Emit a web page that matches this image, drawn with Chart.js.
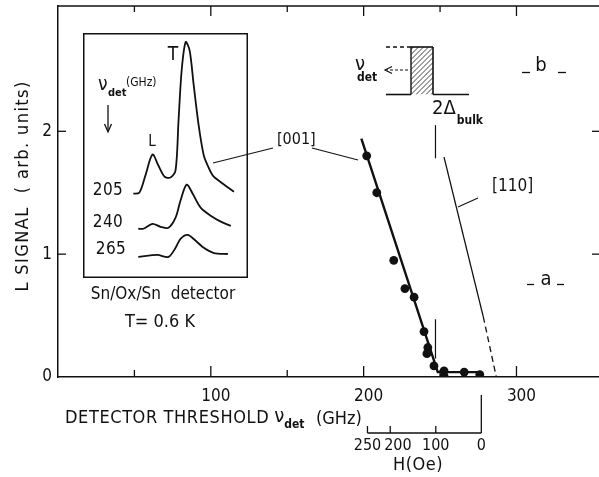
<!DOCTYPE html>
<html>
<head>
<meta charset="utf-8">
<script src="https://cdn.jsdelivr.net/npm/chart.js@4.4.1/dist/chart.umd.min.js"></script>
<style>
html, body { margin: 0; padding: 0; background: #fff; }
#wrap { position: relative; width: 599px; height: 477px; }
#main { position: absolute; left: 0; top: 0; }
#inset { position: absolute; left: 83px; top: 33px; }
</style>
</head>
<body>
<div id="wrap">
  <canvas id="main" width="599" height="477"></canvas>
  <canvas id="inset" width="165" height="245"></canvas>
</div>
<script>
// measured L signal vs detector threshold, [001]
const thresholdGHz = [202, 208.6, 219.7, 227, 233, 239.5, 242, 241.4, 246, 252.6, 252.6, 265.8, 276];
const lSignal      = [1.80, 1.50, 0.95, 0.72, 0.65, 0.37, 0.24, 0.19, 0.09, 0.05, 0.01, 0.04, 0.02];

// guide lines
const fit001X  = [198.5, 248.5, 276];
const fit001Y  = [1.94, 0.04, 0.04];
const line110X = [252.6, 278.3];
const line110Y = [1.79, 0.49];
const dash110X = [278.3, 286.8];
const dash110Y = [0.49, 0];
const gapMarkX = 247;
const gapMarkUpper = [1.78, 2.05];
const gapMarkLower = [0.15, 0.47];

const xTickLabels = [100, 200, 300];
const yTickLabels = [0, 1, 2];

// magnetic field scale under the axis (H in Oe -> threshold in GHz)
const fieldTicks = [250, 200, 100, 0];
const fieldZeroGHz = 277;
const ghzPerOe = 0.298;

// inset traces (arbitrary time units, arbitrary signal)
const time205  = [30.5, 34.1, 37.8, 42.1, 45.7, 49.4, 53.0, 56.1, 57.9, 59.8, 62.2, 64.6, 67.1, 70.1, 73.2, 75.6, 78.7, 84.8, 91.5];
const trace205 = [34.4, 34.8, 41.8, 50.4, 45.9, 41.4, 41.0, 43.9, 64.3, 84.8, 96.3, 93.0, 78.7, 62.3, 50.0, 45.9, 41.8, 38.5, 35.2];
const time240  = [33.5, 36.6, 42.1, 47.0, 51.8, 56.1, 59.1, 62.8, 66.5, 71.3, 77.4, 83.5, 89.6];
const trace240 = [20.1, 20.1, 22.1, 20.9, 20.5, 24.6, 31.6, 38.1, 34.4, 28.7, 25.4, 23.0, 21.3];
const time265  = [33.5, 45.1, 51.8, 56.1, 59.1, 63.4, 68.3, 73.2, 79.3, 87.8];
const trace265 = [8.6, 9.4, 8.6, 12.3, 16.0, 17.6, 15.2, 12.3, 10.2, 9.8];

const black = '#111';
const fam = '"DejaVu Sans Condensed", "Liberation Sans Narrow", sans-serif';
const pts = (xs, ys) => xs.map((x, i) => ({ x: x, y: ys[i] }));

function txt(ctx, s, x, y, size, o) {
    o = o || {};
    ctx.font = (o.weight || 'normal') + ' ' + size + 'px ' + fam;
    ctx.textAlign = o.align || 'left';
    ctx.textBaseline = 'middle';
    ctx.letterSpacing = (o.ls || 0) + 'px';
    ctx.fillText(s, x, y);
    const w = ctx.measureText(s).width;
    ctx.letterSpacing = '0px';
    return w;
}
function seg(ctx, x1, y1, x2, y2, w) {
    ctx.lineWidth = w || 1.2;
    ctx.beginPath();
    ctx.moveTo(x1, y1);
    ctx.lineTo(x2, y2);
    ctx.stroke();
}

const decor = {
    id: 'decor',
    afterDraw(chart) {
        const ctx = chart.ctx;
        const a = chart.chartArea;
        const xs = chart.scales.x, ys = chart.scales.y;
        ctx.save();
        ctx.strokeStyle = black;
        ctx.fillStyle = black;
        ctx.lineCap = 'butt';

        // top frame line
        seg(ctx, a.left, a.top, a.right, a.top, 1.5);
        // inward ticks on x (top and bottom)
        xs.ticks.forEach(t => {
            if (t.value <= 0 || t.value > 300) return;
            const px = xs.getPixelForValue(t.value);
            const major = t.value % 100 === 0;
            seg(ctx, px, a.bottom, px, a.bottom - (major ? 11 : 7), 1.3);
            seg(ctx, px, a.top, px, a.top + (major ? 10 : 6), 1.3);
        });
        // inward ticks on y (left and right)
        [1, 2].forEach(v => {
            const py = ys.getPixelForValue(v);
            seg(ctx, a.left, py, a.left + 8, py, 1.3);
            seg(ctx, a.right, py, a.right - 7, py, 1.3);
        });

        // axis titles
        let x = 65;
        x += txt(ctx, 'DETECTOR THRESHOLD', x, 418, 18, { ls: 0.6 });
        x += 5;
        x += txt(ctx, 'ν', x, 417, 20);
        x += txt(ctx, 'det', x, 425, 12, { weight: 'bold' });
        txt(ctx, '(GHz)', 316, 419, 18);

        ctx.save();
        ctx.translate(23, 186);
        ctx.rotate(-Math.PI / 2);
        txt(ctx, 'L SIGNAL  ( arb. units)', 0, 0, 18, { align: 'center', ls: 1.4 });
        ctx.restore();

        // labels under the inset
        txt(ctx, 'Sn/Ox/Sn  detector', 163, 295, 17, { align: 'center' });
        txt(ctx, 'T= 0.6 K', 160, 322, 18, { align: 'center' });

        // [001] and [110] labels with leader lines
        txt(ctx, '[001]', 277, 140, 16);
        seg(ctx, 213, 163, 273, 148, 1.1);
        seg(ctx, 312, 148, 358, 160, 1.1);
        txt(ctx, '[110]', 492, 187, 17);
        seg(ctx, 458, 207, 478, 198, 1.1);

        // gap step pictogram
        const L = 411, R = 433, T = 47, B = 94.5;
        ctx.save();
        ctx.beginPath();
        ctx.rect(L, T, R - L, B - T);
        ctx.clip();
        ctx.lineWidth = 0.8;
        for (let k = -60; k < 40; k += 5) {
            ctx.beginPath();
            ctx.moveTo(L + k, B);
            ctx.lineTo(L + k + (B - T), T);
            ctx.stroke();
        }
        ctx.restore();
        ctx.setLineDash([4, 3]);
        seg(ctx, 386, T, L, T, 1.4);
        ctx.setLineDash([]);
        seg(ctx, L, T, R, T, 1.6);
        seg(ctx, L, T, L, B, 1.4);
        seg(ctx, R, T, R, B, 1.6);
        seg(ctx, 386, B, L, B, 1.6);
        seg(ctx, R, B, 469, B, 1.6);

        // nu_det arrow
        txt(ctx, 'ν', 355, 65, 20);
        txt(ctx, 'det', 357, 78, 12, { weight: 'bold' });
        ctx.setLineDash([3, 2]);
        seg(ctx, 408, 70, 387, 70, 1.1);
        ctx.setLineDash([]);
        ctx.lineWidth = 1.2;
        ctx.beginPath();
        ctx.moveTo(392, 66.5);
        ctx.lineTo(385, 70);
        ctx.lineTo(392, 73.5);
        ctx.stroke();

        // 2 Delta bulk
        let bx = 432;
        bx += txt(ctx, '2Δ', bx, 109, 20);
        txt(ctx, 'bulk', bx + 1, 121, 12, { weight: 'bold' });

        // curve tags a / b
        txt(ctx, 'b', 541, 66, 20, { align: 'center' });
        seg(ctx, 522, 72.5, 530, 72.5, 1.3);
        seg(ctx, 558, 72.5, 566, 72.5, 1.3);
        txt(ctx, 'a', 546, 280, 20, { align: 'center' });
        seg(ctx, 527, 284.5, 534, 284.5, 1.3);
        seg(ctx, 557, 284.5, 564, 284.5, 1.3);

        // H (Oe) scale
        const hy = 433;
        const hp = fieldTicks.map(h => xs.getPixelForValue(fieldZeroGHz - h * ghzPerOe));
        seg(ctx, Math.min(...hp), hy, Math.max(...hp), hy, 1.3);
        let lastRight = -1e9;
        fieldTicks.forEach((h, i) => {
            const top = h === 0 ? 395 : hy - 7;
            seg(ctx, hp[i], hy, hp[i], top, 1.3);
            ctx.font = '16px ' + fam;
            const w = ctx.measureText(String(h)).width;
            const cx = Math.max(hp[i], lastRight + 3 + w / 2);
            txt(ctx, String(h), cx, 446, 16, { align: 'center' });
            lastRight = cx + w / 2;
        });
        txt(ctx, 'H(Oe)', 418, 465, 18, { align: 'center', ls: 0.5 });

        ctx.restore();
    }
};

new Chart(document.getElementById('main'), {
    type: 'scatter',
    data: {
        datasets: [
            { data: pts(thresholdGHz, lSignal), showLine: false, pointRadius: 4.4,
              pointBackgroundColor: black, pointBorderColor: black, pointBorderWidth: 0 },
            { data: pts(fit001X, fit001Y), showLine: true, borderColor: black, borderWidth: 2.4, pointRadius: 0 },
            { data: pts(line110X, line110Y), showLine: true, borderColor: black, borderWidth: 1.3, pointRadius: 0 },
            { data: pts(dash110X, dash110Y), showLine: true, borderColor: black, borderWidth: 1.3,
              borderDash: [6, 4], pointRadius: 0 },
            { data: pts([gapMarkX, gapMarkX], gapMarkUpper), showLine: true, borderColor: black, borderWidth: 1.2, pointRadius: 0 },
            { data: pts([gapMarkX, gapMarkX], gapMarkLower), showLine: true, borderColor: black, borderWidth: 1.2, pointRadius: 0 }
        ]
    },
    options: {
        responsive: false,
        animation: false,
        layout: { autoPadding: false, padding: { top: 6, right: 0, left: 0, bottom: 0 } },
        plugins: { legend: { display: false }, tooltip: { enabled: false } },
        scales: {
            x: {
                type: 'linear', min: 0, max: 354,
                afterFit: s => { s.height = 100; s.paddingLeft = 0; s.paddingRight = 0; },
                grid: { display: false, drawTicks: false },
                border: { color: black, width: 1.5 },
                ticks: {
                    stepSize: 50, padding: 9, labelOffset: 5, autoSkip: false, maxRotation: 0,
                    color: black, font: { family: fam, size: 17 },
                    callback: v => xTickLabels.includes(v) ? String(v) : ''
                }
            },
            y: {
                type: 'linear', min: 0, max: 3.02,
                afterFit: s => { s.width = 58; s.paddingTop = 0; s.paddingBottom = 0; },
                grid: { display: false, drawTicks: false },
                border: { color: black, width: 1.5 },
                ticks: {
                    stepSize: 1, padding: 6, autoSkip: false,
                    color: black, font: { family: fam, size: 17 },
                    callback: v => yTickLabels.includes(v) ? String(v) : ''
                }
            }
        }
    },
    plugins: [decor]
});

// inset with the raw traces
const insetDecor = {
    id: 'insetDecor',
    afterDraw(chart) {
        const ctx = chart.ctx;
        ctx.save();
        ctx.strokeStyle = black;
        ctx.fillStyle = black;
        ctx.lineWidth = 1.5;
        ctx.strokeRect(0.75, 0.75, chart.width - 1.5, chart.height - 1.5);

        txt(ctx, 'T', 90, 22, 19, { align: 'center' });
        txt(ctx, 'ν', 15, 52, 19);
        txt(ctx, 'det', 25, 60, 11, { weight: 'bold' });
        txt(ctx, '(GHz)', 43, 50, 12);
        seg(ctx, 25, 72, 25, 98, 1.3);
        ctx.beginPath();
        ctx.moveTo(21.5, 91);
        ctx.lineTo(25, 99);
        ctx.lineTo(28.5, 91);
        ctx.stroke();
        txt(ctx, 'L', 69, 109, 15, { align: 'center' });
        txt(ctx, '205', 25, 158, 17, { align: 'center', ls: 0.5 });
        txt(ctx, '240', 25, 190, 17, { align: 'center', ls: 0.5 });
        txt(ctx, '265', 28, 217, 17, { align: 'center', ls: 0.5 });
        ctx.restore();
    }
};

const traceStyle = { showLine: true, borderColor: black, borderWidth: 1.8, pointRadius: 0, tension: 0.3 };
new Chart(document.getElementById('inset'), {
    type: 'scatter',
    data: {
        datasets: [
            Object.assign({ data: pts(time205, trace205) }, traceStyle),
            Object.assign({ data: pts(time240, trace240) }, traceStyle),
            Object.assign({ data: pts(time265, trace265) }, traceStyle)
        ]
    },
    options: {
        responsive: false,
        animation: false,
        layout: { autoPadding: false, padding: 0 },
        plugins: { legend: { display: false }, tooltip: { enabled: false } },
        scales: {
            x: { display: false, min: 0, max: 100 },
            y: { display: false, min: 0, max: 100 }
        }
    },
    plugins: [insetDecor]
});
</script>
</body>
</html>
